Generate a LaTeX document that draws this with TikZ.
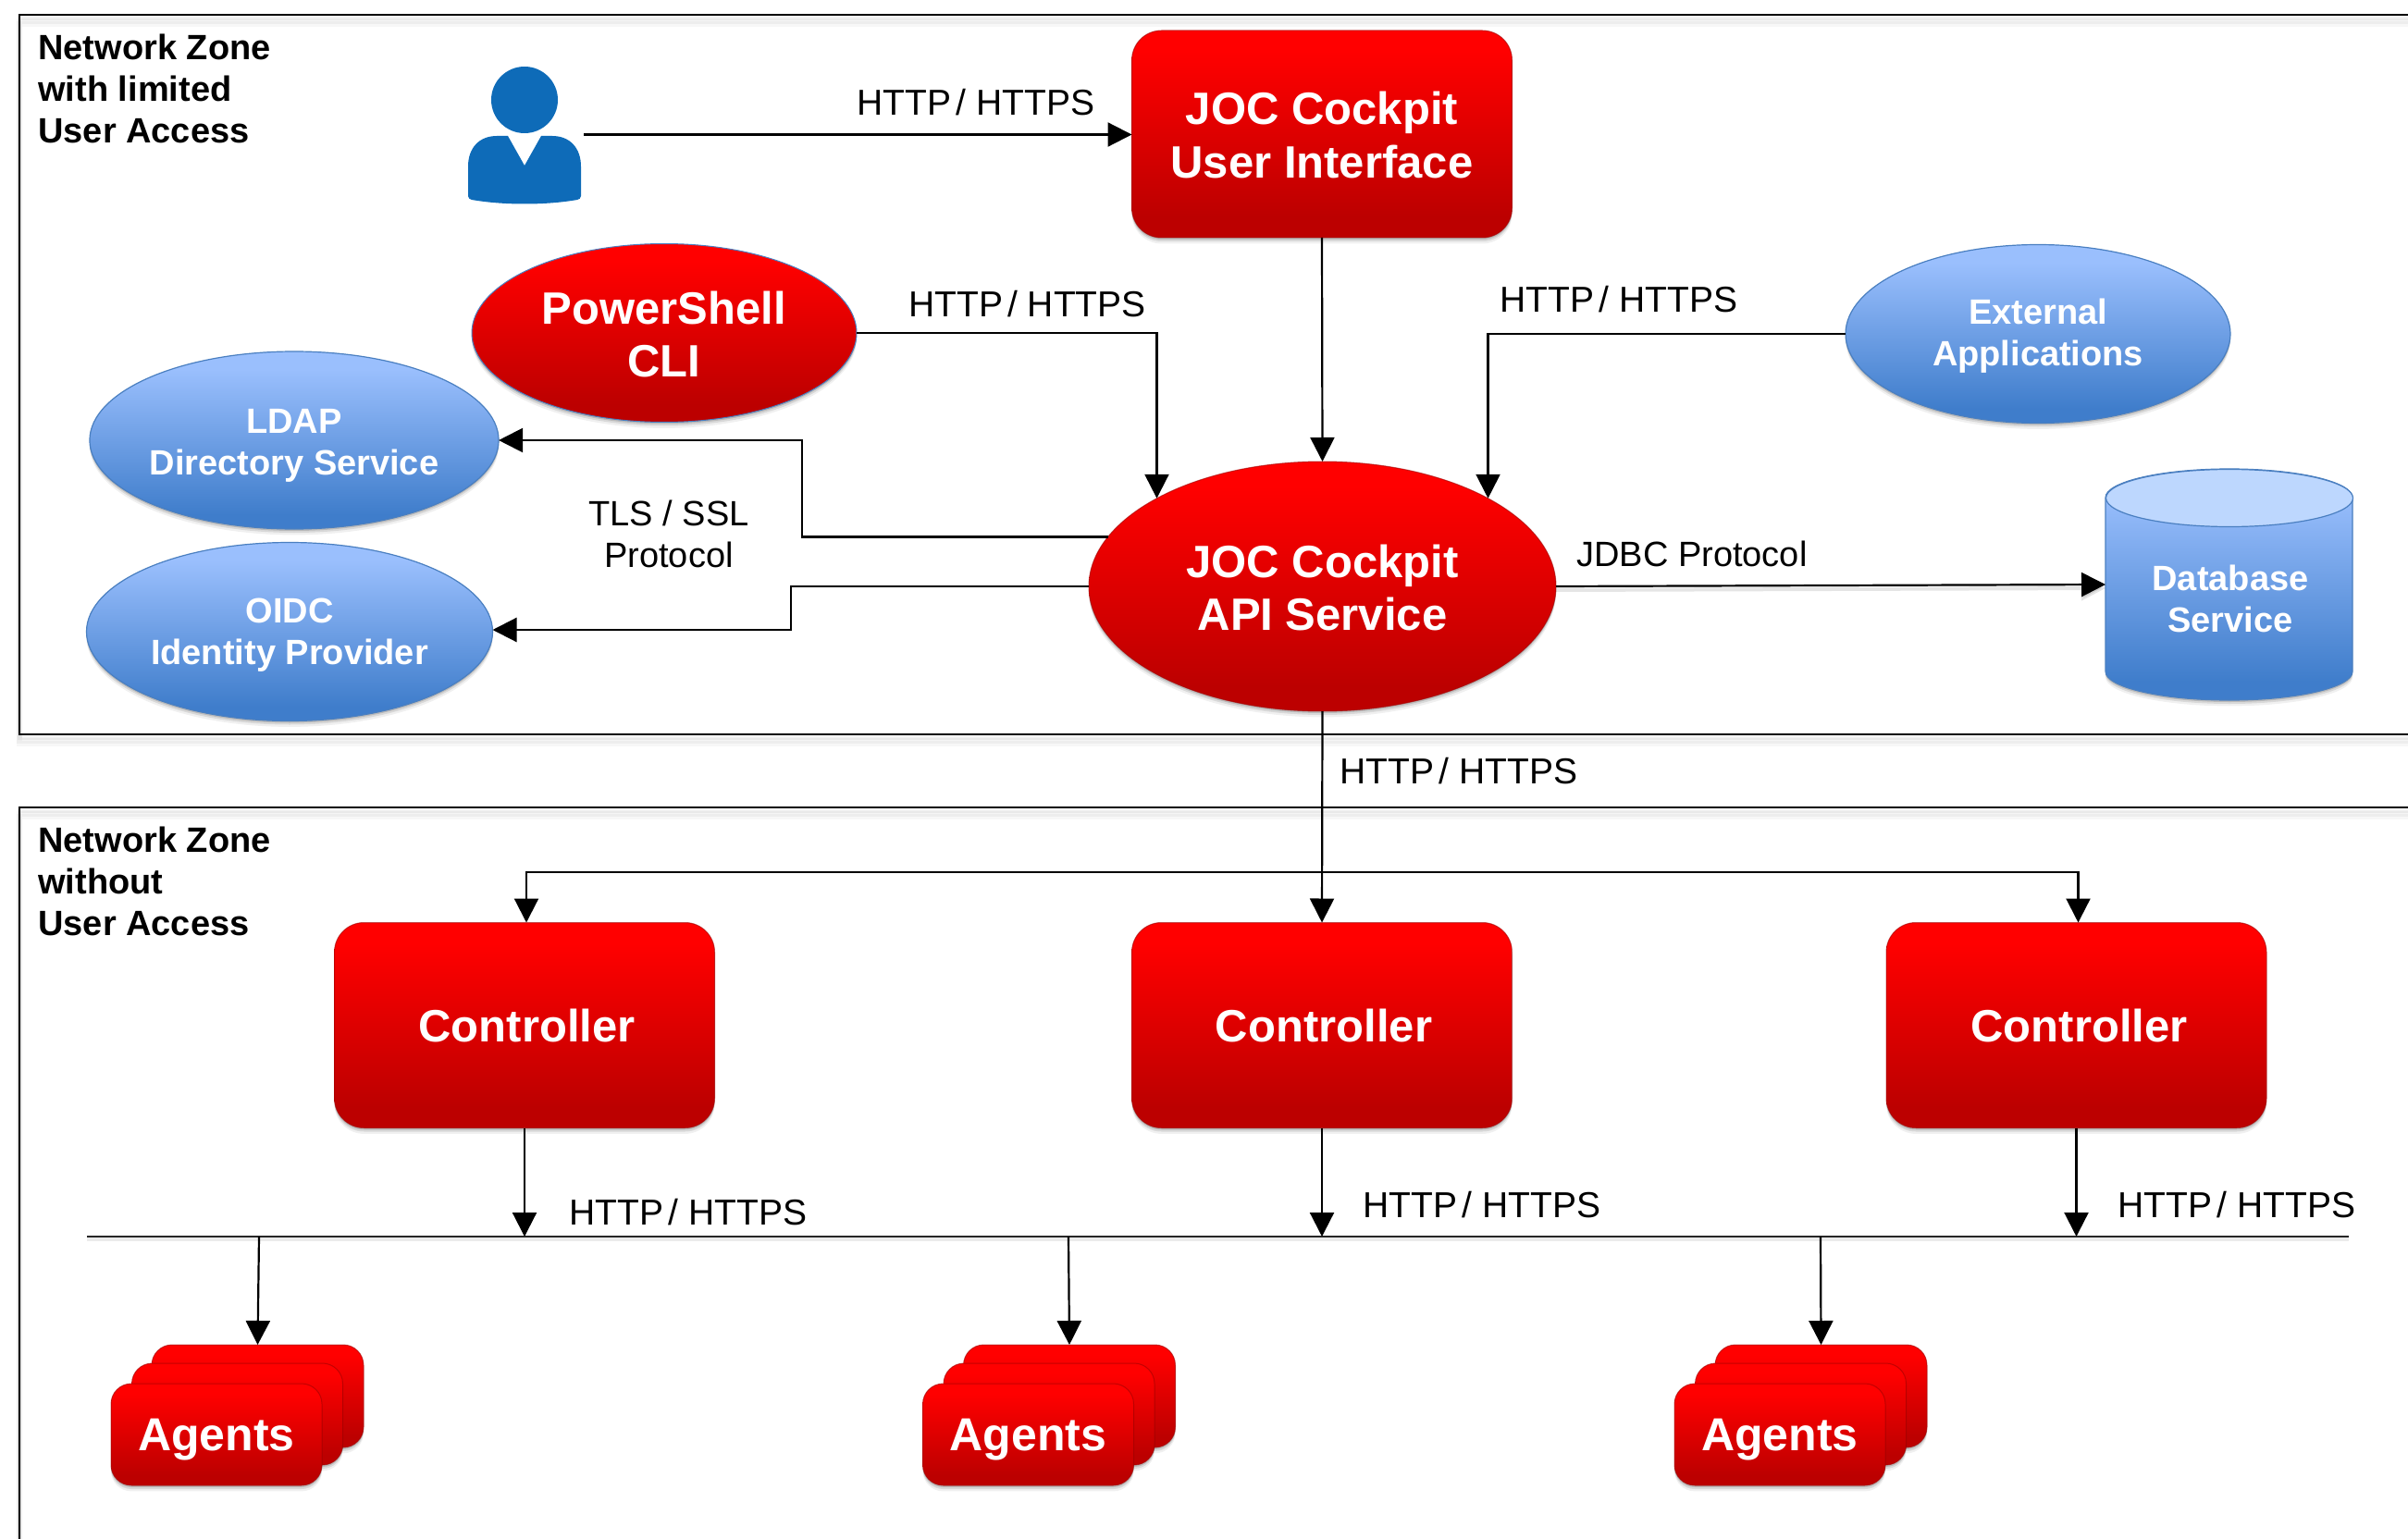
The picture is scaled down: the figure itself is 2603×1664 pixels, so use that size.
\documentclass[tikz,border=0pt]{standalone}
\usepackage{fontspec}
\setmainfont{Liberation Sans}
\usetikzlibrary{arrows.meta,shapes.geometric,shadows}
\definecolor{rtop}{HTML}{FF0000}
\definecolor{rbot}{HTML}{BC0000}
\definecolor{btop}{HTML}{9ABFFD}
\definecolor{bbot}{HTML}{3F7DCB}
\definecolor{bedge}{HTML}{4A7FC0}
\definecolor{capblue}{HTML}{BDD7FE}
\definecolor{personblue}{HTML}{0E6BB8}
\pgfdeclareverticalshading{redgrad}{100bp}{color(0bp)=(rbot); color(30bp)=(rbot); color(70bp)=(rtop); color(100bp)=(rtop)}
\pgfdeclareverticalshading{bluegrad}{100bp}{color(0bp)=(bbot); color(29bp)=(bbot); color(70bp)=(btop); color(100bp)=(btop)}
\newcommand{\hh}{{\fontsize{19.5}{22.5}\selectfont HTTP\kern2.5pt/\kern5.5pt HTTPS}}
\newcommand{\topup}[1]{\rule{0pt}{#1pt}}
\tikzset{
  softshadow/.style={
    drop shadow={shadow xshift=0pt,shadow yshift=-1pt,opacity=.14,fill=black},
    drop shadow={shadow xshift=0pt,shadow yshift=-2pt,opacity=.10,fill=black},
    drop shadow={shadow xshift=0pt,shadow yshift=-3.2pt,opacity=.06,fill=black}},
  sized/.style 2 args={minimum width=#1*0.5pt,minimum height=#2*0.5pt,inner sep=0pt,outer sep=0pt},
  redshape/.style={shade,shading=redgrad,draw=rbot!85!black,draw opacity=.6,line width=.5pt,softshadow,text=white,align=center,
    font=\fontsize{24.5}{28.75}\selectfont\bfseries},
  blueshape/.style={ellipse,shade,shading=bluegrad,draw=bedge,line width=.6pt,softshadow,text=white,align=center,
    font=\fontsize{19}{22.5}\selectfont\bfseries},
  redbox/.style={redshape,rectangle,rounded corners=16pt,sized={411}{222}},
  agentbox/.style={redshape,rectangle,rounded corners=11pt,sized={228}{110},font=\fontsize{25}{29}\selectfont\bfseries},
  zonelabel/.style={anchor=west,align=left,inner sep=0pt,font=\fontsize{19}{22.5}\selectfont\bfseries},
  plainlabel/.style={inner sep=0pt,align=center,font=\fontsize{19}{22.5}\selectfont},
  conn/.style={line width=1.1pt,-{Triangle[length=13pt,width=13pt]}},
  plainline/.style={line width=1.1pt},
  frameline/.style={line width=1.1pt,
    preaction={draw=black,opacity=.05,line width=2pt,transform canvas={yshift=-2pt}},
    preaction={draw=black,opacity=.04,line width=3pt,transform canvas={yshift=-3.5pt}},
    preaction={draw=black,opacity=.03,line width=3pt,transform canvas={yshift=-5pt}}},
  busline/.style={line width=.6pt,draw=black!85,
    preaction={draw=black,opacity=.08,line width=2pt,transform canvas={yshift=-1.5pt}}},
}
\begin{document}
\begin{tikzpicture}[x=0.5pt,y=-0.5pt]
\useasboundingbox (0,0) rectangle (2603,1664);
\clip (0,0) rectangle (2603,1664);

% zones
\draw[frameline] (21,16) rectangle (2660,794);
\draw[frameline] (21,873) rectangle (2660,1720);
\node[zonelabel] (zone1) at (41,96) {Network Zone\\with limited\\User Access};
\node[zonelabel] (zone2) at (41,953) {Network Zone\\without\\User Access};

% user
\fill[personblue] (567,108) ellipse (18pt and 18pt);
\fill[personblue] (506,212) -- (506,180) .. controls (506,160) and (518,147) .. (537,147) -- (549,147) -- (567,179) -- (585,147) -- (597,147) .. controls (616,147) and (628,160) .. (628,180) -- (628,212) .. controls (628,215) and (626,215) .. (624,216) .. controls (590,222) and (544,222) .. (510,216) .. controls (508,215) and (506,215) .. (506,212) -- cycle;
\coordinate (user) at (631,145.5);

% top row nodes
\node[redbox,sized={411}{224}] (ui) at (1429,145) {\topup{18.5}JOC Cockpit\\User Interface};
\node[redshape,ellipse,draw=bedge,draw opacity=1,sized={416}{193}] (ps) at (718,360) {\topup{19}PowerShell\\CLI};
\node[blueshape,sized={441}{192}] (ldap) at (318,476) {\topup{18.5}LDAP\\Directory Service};
\node[blueshape,sized={439}{193}] (oidc) at (313,683) {\topup{16.5}OIDC\\Identity Provider};
\node[blueshape,sized={416}{193}] (ext) at (2203,361) {\topup{16}External\\Applications};
\node[redshape,ellipse,sized={505}{270}] (api) at (1429.5,634) {\topup{19}JOC Cockpit\\API Service};

% database cylinder
\shade[shading=bluegrad,draw=bedge,line width=.6pt,softshadow] (2276,538) -- (2276,726) .. controls (2276,743) and (2336,757) .. (2410,757) .. controls (2484,757) and (2543,743) .. (2543,726) -- (2543,538) .. controls (2543,521) and (2484,507) .. (2410,507) .. controls (2336,507) and (2276,521) .. (2276,538) -- cycle;
\draw[fill=capblue,draw=bedge,line width=.6pt] (2410,538.5) ellipse (66.75pt and 15.5pt);
\node[sized={267}{250}] (db) at (2409.5,632) {};
\node[text=white,align=center,inner sep=0pt,font=\fontsize{19}{22.5}\selectfont\bfseries] (dbtext) at (2411,647) {Database\\Service};

% controllers
\node[redbox] (c1) at (567,1108.5) {\hspace*{2.5pt}Controller};
\node[redbox] (c2) at (1429,1108.5) {\hspace*{2pt}Controller};
\node[redbox] (c3) at (2244.5,1108.5) {\hspace*{3pt}Controller};

% bus
\coordinate (busL) at (94,1337);
\coordinate (busR) at (2539,1337);
\draw[busline] (busL) -- (busR);

% agents
\foreach \dx/\n/\bx in {0/1/280,877.5/2/1155,1690/3/1968}{
  \node[agentbox,sized={229}{111}] (ag\n c) at (278.5+\dx,1509.5) {};
  \node[agentbox] (ag\n b) at (256.5+\dx,1529) {};
  \node[agentbox] (ag\n a) at (234+\dx,1551) {\raisebox{-8.5pt}[0pt][0pt]{Agents}};
  \coordinate (drop\n) at (\bx,1337);
  \draw[conn] (drop\n) -- (ag\n c.north);
}

% connectors, top zone
\draw[conn] (user) -- (user -| ui.west);
\draw[conn] (ui.south) -- (api.north);
\draw[conn] (ps.east) -| (api.152.2);
\draw[conn] (ext.west) -| (api.28.3);
\coordinate (ldapbend) at (867,580);
\draw[conn] (api.167.3) -- (api.167.3 -| ldapbend) |- (ldap.east);
\coordinate (oidcbend) at (855,634);
\draw[conn] (api.west) -- (oidcbend) |- ([yshift=1pt]oidc.east);
\draw[conn,preaction={draw=black,opacity=.1,line width=2pt,transform canvas={yshift=-2pt}}] (api.east) -- (db.west);

% connectors, lower zone
\coordinate (branch) at (1429,943);
\draw[conn] (api.south) -- (c2.north);
\draw[conn] (branch) -| ([xshift=1pt]c1.north);
\draw[conn] (branch) -| ([xshift=1pt]c3.north);
\draw[conn] (c1.south) -- (c1.south |- busL);
\draw[conn] (c2.south) -- (c2.south |- busL);
\draw[conn] (c3.south) -- (c3.south |- busL);

% labels
\node[plainlabel] (l1) at (1055,111) {\hh};
\node[plainlabel] (l2) at (1110.5,329) {\hh};
\node[plainlabel] (l3) at (1750,324) {\hh};
\node[plainlabel] (l4) at (723,577) {TLS / SSL\\Protocol};
\node[plainlabel] (l5) at (1829,599) {JDBC Protocol};
\node[plainlabel] (l6) at (1577,834) {\hh};
\node[plainlabel] (l7) at (744,1311) {\hh};
\node[plainlabel] (l8) at (1602,1303) {\hh};
\node[plainlabel] (l9) at (2418,1303) {\hh};
\end{tikzpicture}
\end{document}
